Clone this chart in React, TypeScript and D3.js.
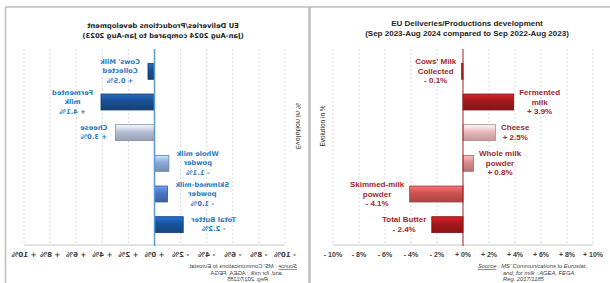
import React, { useEffect, useRef } from 'react'
import * as d3 from 'd3'

// categories, split over lines like the data labels
const categories = ['cows', 'fermented', 'cheese', 'wmp', 'smp', 'butter']
const labelLines = [
  ["Cows' Milk", 'Collected'],
  ['Fermented', 'milk'],
  ['Cheese'],
  ['Whole milk', 'powder'],
  ['Skimmed-milk', 'powder'],
  ['Total Butter'],
]

// Jan-Aug 2024 vs Jan-Aug 2023 (left, mirrored panel)
const leftValues = [0.5, 4.1, 3.0, -1.1, -1.0, -2.2]
// Sep 2023-Aug 2024 vs Sep 2022-Aug 2023 (right panel)
const rightValues = [-0.1, 3.9, 2.5, 0.8, -4.1, -2.4]

const tickValues = [-10, -8, -6, -4, -2, 0, 2, 4, 6, 8, 10]
const tickLabels = ['- 10%', '- 8%', '- 6%', '- 4%', '- 2%', '+ 0%', '+ 2%', '+ 4%', '+ 6%', '+ 8%', '+ 10%']

const leftTitle = ['EU Deliveries/Productions development', '(Jan-Aug 2024 compared to Jan-Aug 2023)']
const rightTitle = ['EU Deliveries/Productions development', '(Sep 2023-Aug 2024 compared to Sep 2022-Aug 2023)']
const sourceLines = ["MS' Communications  to Eurostat,", 'and, for milk : AGEA, FEGA', 'Reg.  2017/1185']

const leftColors = ['#1b4e91', '#1b4e91', '#b3bfd6', '#8ea8d6', '#4a75bf', '#1a539b']
const rightColors = ['#9e1a1e', '#9e1a1e', '#e8b7b7', '#d98a8a', '#cc5252', '#a3181c']

const fmt = (v: number) => (v < 0 ? '- ' : '+ ') + Math.abs(v).toFixed(1) + '%'

function App() {
  const ref = useRef<SVGSVGElement>(null)

  useEffect(() => {
    const svg = d3.select(ref.current)
    svg.selectAll('*').remove()
    const defs = svg.append('defs')

    const drawPanel = (opts: any) => {
      const g = svg.append('g').attr('transform', opts.transform)
      const x = d3.scaleLinear().domain([-10, 10]).range(opts.xRange)
      const y = d3.scaleBand().domain(categories).range([56, 240]).paddingInner(0.48).paddingOuter(0.24)

      // title
      g.append('text')
        .attr('x', opts.titleX).attr('y', opts.titleY)
        .attr('text-anchor', 'middle')
        .attr('font-family', opts.font).attr('font-size', opts.titleSize).attr('font-weight', 'bold')
        .attr('fill', '#262626')
        .selectAll('tspan').data(opts.title).enter().append('tspan')
        .attr('x', opts.titleX).attr('dy', (d: any, i: number) => (i ? 10 : 0))
        .text((d: any) => d)

      // grid
      g.selectAll('.grid').data(tickValues.filter(t => t !== 0)).enter().append('line')
        .attr('x1', d => x(d)).attr('x2', d => x(d))
        .attr('y1', 49).attr('y2', 245)
        .attr('stroke', '#cfcfcf').attr('stroke-width', 0.8).attr('stroke-dasharray', '2,2')

      g.append('line')
        .attr('x1', x(-10)).attr('x2', x(10)).attr('y1', 245).attr('y2', 245)
        .attr('stroke', '#c8c8c8').attr('stroke-width', 1)

      // tick labels
      g.selectAll('.tick').data(tickValues).enter().append('text')
        .attr('x', d => x(d)).attr('y', 256.5)
        .attr('text-anchor', 'middle')
        .attr('font-family', opts.tickFont).attr('font-size', 7).attr('font-weight', 'bold')
        .attr('fill', '#404040')
        .text((d, i) => tickLabels[i])

      // axis title
      g.append('text')
        .attr('transform', `translate(${opts.axisLabelX},126) rotate(-90)`)
        .attr('text-anchor', 'middle')
        .attr('font-family', opts.tickFont).attr('font-size', 6.5)
        .attr('fill', '#262626')
        .text('Evolution in %')

      // gradients
      opts.colors.forEach((c: string, i: number) => {
        const grad = defs.append('linearGradient')
          .attr('id', `${opts.id}-g${i}`).attr('x1', 0).attr('x2', 0).attr('y1', 0).attr('y2', 1)
        const base = d3.color(c) as any
        grad.append('stop').attr('offset', '0%').attr('stop-color', base.brighter(0.9).formatHex())
        grad.append('stop').attr('offset', '45%').attr('stop-color', base.formatHex())
        grad.append('stop').attr('offset', '100%').attr('stop-color', base.darker(0.5).formatHex())
      })

      // bars
      g.selectAll('.bar').data(opts.values).enter().append('rect')
        .attr('x', (d: any) => Math.min(x(0), x(d)))
        .attr('y', (d: any, i: number) => y(categories[i]) as number)
        .attr('width', (d: any) => Math.abs(x(d) - x(0)))
        .attr('height', y.bandwidth())
        .attr('fill', (d: any, i: number) => `url(#${opts.id}-g${i})`)
        .attr('stroke', (d: any, i: number) => (d3.color(opts.colors[i]) as any).darker(0.8).formatHex())
        .attr('stroke-width', 0.8)

      // zero line
      g.append('line')
        .attr('x1', x(0)).attr('x2', x(0)).attr('y1', 49).attr('y2', 246)
        .attr('stroke', opts.zeroColor).attr('stroke-width', opts.zeroWidth)

      // data labels
      opts.values.forEach((v: number, i: number) => {
        const lines = labelLines[i].concat([fmt(v)])
        const cy = (y(categories[i]) as number) + y.bandwidth() / 2
        const lh = 9.5
        const t = g.append('text')
          .attr('text-anchor', 'middle')
          .attr('font-family', opts.font).attr('font-size', opts.labelSize).attr('font-weight', 'bold')
          .attr('fill', opts.textColor)
        const spans = t.selectAll('tspan').data(lines).enter().append('tspan')
          .attr('y', (d, k) => cy + (k - (lines.length - 1) / 2) * lh)
          .attr('dominant-baseline', 'central')
          .text(d => d)
        let w = 0
        spans.each(function () { w = Math.max(w, (this as SVGTSpanElement).getComputedTextLength()) })
        const sign = v < 0 ? -1 : 1
        const cx = x(v) + sign * (opts.gap + w / 2)
        spans.attr('x', cx)
      })

      // source
      const src = g.append('text')
        .attr('font-family', 'Liberation Sans').attr('font-size', 5.8).attr('font-style', 'italic')
        .attr('fill', '#404040')
      const s0 = src.append('tspan').attr('x', opts.srcX[0]).attr('y', 268)
      s0.append('tspan').attr('text-decoration', 'underline').text('Source')
      s0.append('tspan').text(' : ' + sourceLines[0])
      src.append('tspan').attr('x', opts.srcX[1]).attr('y', 274.5).text(sourceLines[1])
      src.append('tspan').attr('x', opts.srcX[2]).attr('y', 281).text(sourceLines[2])
    }

    // left panel is mirrored horizontally
    drawPanel({
      id: 'left',
      transform: 'translate(312,0) scale(-1,1)',
      xRange: [27, 288],
      title: leftTitle,
      titleX: 149, titleY: 27.5, titleSize: 6.8,
      font: 'DejaVu Sans', tickFont: 'DejaVu Sans',
      labelSize: 6.7,
      values: leftValues, colors: leftColors,
      textColor: '#2c7bc6', zeroColor: '#5b9bd5', zeroWidth: 1.5,
      gap: 8, axisLabelX: 16,
      srcX: [15, 30, 44],
    })

    drawPanel({
      id: 'right',
      transform: '',
      xRange: [333, 593],
      title: rightTitle,
      titleX: 467, titleY: 26, titleSize: 8,
      font: 'Liberation Sans', tickFont: 'Liberation Sans',
      labelSize: 8,
      values: rightValues, colors: rightColors,
      textColor: '#a3282b', zeroColor: '#a01c20', zeroWidth: 1,
      gap: 5.5, axisLabelX: 325,
      srcX: [478, 503, 503],
    })

    // frames
    const frame = svg.append('g').attr('stroke', '#bdbdbd').attr('fill', 'none')
    frame.append('line').attr('x1', 5.5).attr('x2', 610).attr('y1', 7).attr('y2', 7).attr('stroke-width', 1.5)
    frame.append('line').attr('x1', 5.5).attr('x2', 5.5).attr('y1', 7).attr('y2', 283).attr('stroke-width', 1.5)
    frame.append('line').attr('x1', 309.5).attr('x2', 309.5).attr('y1', 7).attr('y2', 283).attr('stroke-width', 2.5)
  }, [])

  return (
    <svg ref={ref} width={610} height={283} style={{ position: 'absolute', left: 0, top: 0, background: '#fff' }} />
  )
}

export default App
